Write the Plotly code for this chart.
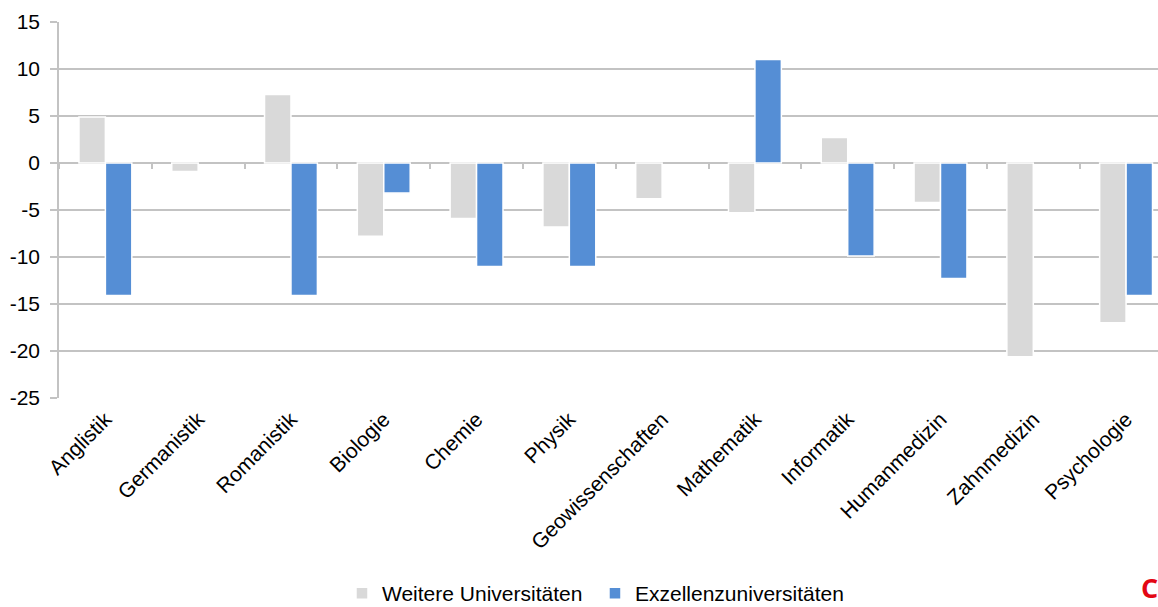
import plotly.graph_objects as go

categories = ["Anglistik", "Germanistik", "Romanistik", "Biologie", "Chemie", "Physik",
              "Geowissenschaften", "Mathematik", "Informatik", "Humanmedizin",
              "Zahnmedizin", "Psychologie"]
weitere = [4.9, -0.9, 7.3, -7.8, -5.9, -6.8, -3.8, -5.3, 2.7, -4.2, -20.6, -17.0]
exzellenz = [-14.1, None, -14.1, -3.2, -11.0, -11.0, None, 11.0, -9.9, -12.3, None, -14.1]
y_ticks = [15, 10, 5, 0, -5, -10, -15, -20, -25]

FONT = "Liberation Sans, Arial, sans-serif"
GRID = "#C3C3C3"

fig = go.Figure()
fig.add_trace(go.Bar(x=categories, y=weitere, name="Weitere Universitäten", legend="legend",
                     marker=dict(color="#D9D9D9", line=dict(color="white", width=1.5))))
fig.add_trace(go.Bar(x=categories, y=exzellenz, name="Exzellenzuniversitäten", legend="legend2",
                     marker=dict(color="#558ED5", line=dict(color="white", width=1.5))))
# helper invisible trace for the category tick marks along the zero line
fig.add_trace(go.Scatter(x=[0], y=[0], xaxis="x2", mode="markers",
                         marker=dict(opacity=0), showlegend=False, hoverinfo="skip"))

leg_common = dict(orientation="h", yref="container", y=0.022, yanchor="middle",
                  xanchor="left", font=dict(size=21), itemwidth=30,
                  bgcolor="rgba(0,0,0,0)")

fig.update_layout(
    width=1158, height=607,
    margin=dict(l=59, r=0, t=22, b=209, autoexpand=False),
    paper_bgcolor="white", plot_bgcolor="white",
    font=dict(family=FONT, size=21, color="#000000"),
    barmode="group", bargap=0.43, bargroupgap=0.0,
    showlegend=True,
    legend=dict(x=0.2575, **leg_common),
    legend2=dict(x=0.4877, **leg_common),
    xaxis=dict(type="category", range=[-0.5, 11.344], tickangle=-45,
               showgrid=False, showline=False, ticks="", zeroline=False,
               ticklabelstandoff=4, tickfont=dict(size=21)),
    xaxis2=dict(overlaying="x", anchor="free", position=0.625, range=[-0.5, 11.344],
                tickvals=[i + 0.5 for i in range(-1, 12)], ticks="outside", ticklen=5,
                tickwidth=1.5, tickcolor=GRID, showticklabels=False, showgrid=False,
                showline=False, zeroline=False),
    yaxis=dict(range=[-25, 15], tickvals=y_ticks, ticktext=[str(v) for v in y_ticks],
               showgrid=True, gridcolor=GRID, gridwidth=1.5,
               zeroline=True, zerolinecolor=GRID, zerolinewidth=2,
               showline=True, linecolor=GRID, linewidth=1.5,
               ticks="outside", ticklen=7, tickwidth=1.5, tickcolor=GRID,
               ticklabelstandoff=6, tickfont=dict(size=21)),
)

fig.add_annotation(text="<b>C</b>", xref="paper", yref="paper", x=1.002, y=-0.505,
                   xanchor="right", yanchor="middle", showarrow=False,
                   font=dict(family="Open Sans, sans-serif", size=27, color="#E30613"))

fig.write_html("out.html")
